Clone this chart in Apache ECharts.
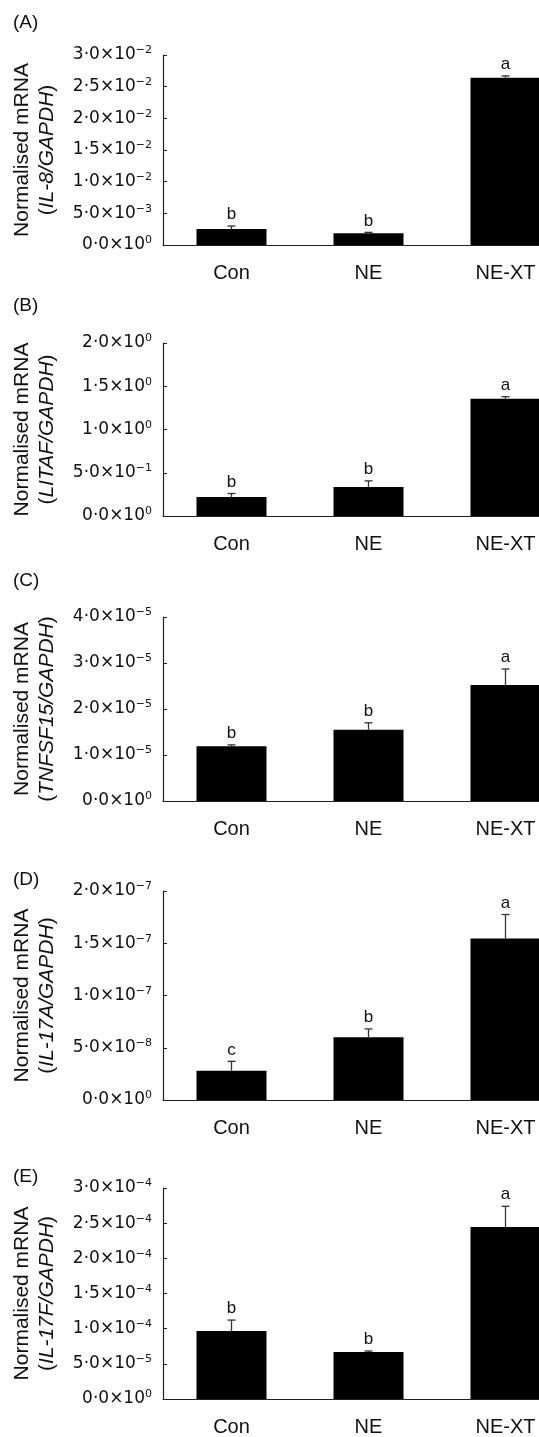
<!DOCTYPE html>
<html><head><meta charset="utf-8">
<script src="https://cdn.jsdelivr.net/npm/echarts@6/dist/echarts.min.js"></script>
<style>html,body{margin:0;padding:0;background:#fff;overflow:hidden;width:539px;height:1437px}#c{width:574px;height:1437px}</style>
</head><body><div id="c"></div>
<script>
// ---- data ----
const categories = ['Con', 'NE', 'NE-XT'];
const panelLabels = ['(A)', '(B)', '(C)', '(D)', '(E)'];
const genes = ['IL-8', 'LITAF', 'TNFSF15', 'IL-17A', 'IL-17F'];
const meanA = [0.00253, 0.00185, 0.0264];
const semA  = [0.00047, 0.00015, 0.0003];
const letA  = ['b', 'b', 'a'];
const meanB = [0.22, 0.336, 1.356];
const semB  = [0.04, 0.07, 0.024];
const letB  = ['b', 'b', 'a'];
const meanC = [1.19e-5, 1.55e-5, 2.52e-5];
const semC  = [0.03e-5, 0.15e-5, 0.35e-5];
const letC  = ['b', 'b', 'a'];
const meanD = [2.8e-8, 6.0e-8, 1.545e-7];
const semD  = [0.9e-8, 0.8e-8, 2.3e-8];
const letD  = ['c', 'b', 'a'];
const meanE = [9.67e-5, 6.67e-5, 2.445e-4];
const semE  = [1.55e-5, 0.15e-5, 2.95e-5];
const letE  = ['b', 'b', 'a'];
const yMax  = [0.03, 2, 4e-5, 2e-7, 3e-4];
const yStep = [0.005, 0.5, 1e-5, 5e-8, 5e-5];

const means = [meanA, meanB, meanC, meanD, meanE];
const sems = [semA, semB, semC, semD, semE];
const letters = [letA, letB, letC, letD, letE];

// ---- layout ----
const gridTop = [55, 343, 617, 891, 1188];
const gridBottomY = [245, 516, 801, 1100, 1402];
const labelTop = [8, 291, 566, 865, 1162];
const W = 574, H = 1437;
const FONT = 'Liberation Sans';
const TICKFONT = 'DejaVu Sans';
const AX = '#222';

function sciLabel(v) {
  let s = Number(v).toExponential(1);
  let parts = s.split('e');
  let m = parts[0].replace('.', '\u00B7');
  let e = parseInt(parts[1], 10);
  let es = e < 0 ? '\u2212' + Math.abs(e) : String(e);
  return '{m|' + m + '\u00D710}{s|' + es + '}';
}

const option = {
  animation: false,
  backgroundColor: '#fff',
  title: panelLabels.map((t, i) => ({
    text: t, left: 8, top: labelTop[i],
    textStyle: { fontSize: 19, fontWeight: 'normal', color: '#111', fontFamily: FONT }
  })),
  grid: gridTop.map((t, i) => ({
    left: 163, right: 0, top: t, height: gridBottomY[i] - t, containLabel: false
  })),
  xAxis: gridTop.map((t, i) => ({
    type: 'category', gridIndex: i, data: categories,
    axisLine: { lineStyle: { color: AX, width: 1.2 } },
    axisTick: { inside: true, length: 5, lineStyle: { color: AX } },
    axisLabel: { margin: 18, fontSize: 20, color: '#111', fontFamily: FONT },
    splitLine: { show: false }
  })),
  yAxis: gridTop.map((t, i) => ({
    type: 'value', gridIndex: i, min: 0, max: yMax[i], interval: yStep[i],
    name: '{n|Normalised mRNA}\n{n|(}{g|' + genes[i] + '/GAPDH}{n|)}',
    nameLocation: 'middle', nameGap: 103, nameRotate: 90,
    nameTextStyle: {
      rich: {
        n: { fontSize: 21, fontFamily: FONT, color: '#111', lineHeight: 25 },
        g: { fontSize: 21, fontFamily: FONT, color: '#111', lineHeight: 25, fontStyle: 'italic' }
      }
    },
    axisLine: { show: true, lineStyle: { color: AX, width: 1.2 } },
    axisTick: { show: true, inside: true, length: 4, lineStyle: { color: AX } },
    splitLine: { show: false },
    axisLabel: {
      margin: 11, formatter: sciLabel,
      rich: {
        m: { fontSize: 17, fontFamily: TICKFONT, color: '#111', lineHeight: 20 },
        s: { fontSize: 11, fontFamily: TICKFONT, color: '#111', lineHeight: 15, verticalAlign: 'top' }
      }
    }
  })),
  series: []
};

means.forEach((m, i) => {
  option.series.push({
    type: 'bar', xAxisIndex: i, yAxisIndex: i, data: m, barWidth: 70,
    itemStyle: { color: '#000' }, silent: true
  });
  option.series.push({
    type: 'custom', xAxisIndex: i, yAxisIndex: i,
    data: m.map((v, k) => [k, v, v + sems[i][k]]),
    renderItem: function (params, api) {
      const x = api.value(0);
      const p0 = api.coord([x, api.value(1)]);
      const p1 = api.coord([x, api.value(2)]);
      const cap = 4;
      return {
        type: 'group',
        children: [
          { type: 'line', shape: { x1: p0[0], y1: p0[1], x2: p1[0], y2: p1[1] }, style: { stroke: '#333', lineWidth: 1.3 } },
          { type: 'line', shape: { x1: p1[0] - cap, y1: p1[1], x2: p1[0] + cap, y2: p1[1] }, style: { stroke: '#333', lineWidth: 1.3 } },
          { type: 'text', x: p1[0], y: p1[1] - 3, style: { text: letters[i][params.dataIndex], fontSize: 17, fontFamily: FONT, fill: '#111', align: 'center', verticalAlign: 'bottom' } }
        ]
      };
    },
    z: 5, silent: true
  });
});

const chart = echarts.init(document.getElementById('c'), null, { renderer: 'canvas', width: W, height: H });
chart.setOption(option);
</script>
</body></html>
